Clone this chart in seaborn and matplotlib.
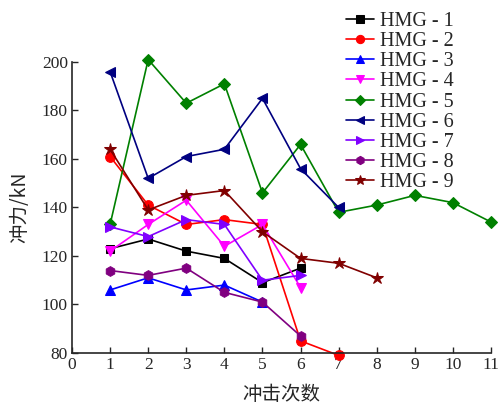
import matplotlib
matplotlib.use("Agg")
import matplotlib.pyplot as plt
import seaborn as sns

sns.set_style("ticks")
plt.rcParams['font.family'] = ['Liberation Serif', 'Noto Sans CJK SC', 'DejaVu Sans']

labels = ["HMG - 1", "HMG - 2", "HMG - 3", "HMG - 4", "HMG - 5",
          "HMG - 6", "HMG - 7", "HMG - 8", "HMG - 9"]
hmg1 = [123, 127, 122, 119, 109, 115]
hmg2 = [161, 141, 133, 135, 133, 85, 79]
hmg3 = [106, 111, 106, 108, 101]
hmg4 = [122, 133, 143, 124, 133, 107]
hmg5 = [133, 201, 183, 191, 146, 166, 138, 141, 145, 142, 134]
hmg6 = [196, 152, 161, 164, 185, 156, 140]
hmg7 = [132, 128, 135, 133, 110, 112]
hmg8 = [114, 112, 115, 105, 101, 87]
hmg9 = [164, 139, 145, 147, 130, 119, 117, 111]
series = [hmg1, hmg2, hmg3, hmg4, hmg5, hmg6, hmg7, hmg8, hmg9]
colors = ["#000000", "#FF0000", "#0000FF", "#FF00FF", "#008000",
          "#000080", "#8000FF", "#800080", "#800000"]
markers = ["s", "o", "^", "v", "D", "<", ">", "h", "*"]
msizes = [6, 7, 7, 7, 6, 7, 7, 7, 9]

fig = plt.figure(figsize=(4.98, 4.07), dpi=100)
ax = fig.add_axes([0.1446, 0.1327, 0.8414, 0.715])

for lab, ys, c, m, ms in zip(labels, series, colors, markers, msizes):
    xs = list(range(1, len(ys) + 1))
    sns.lineplot(x=xs, y=ys, color=c, marker=m, markersize=ms, label=lab,
                 markeredgecolor=c, linewidth=1.2, ax=ax, clip_on=False)

ax.set_xlim(0, 11)
ax.set_ylim(80, 200)
ax.set_xticks(range(0, 12))
ax.set_yticks(range(80, 201, 20))
ax.tick_params(direction='in', labelsize=12.5, length=4, width=1, pad=3)
for s in ['left', 'bottom']:
    ax.spines[s].set_linewidth(1.2)
sns.despine(ax=ax)
ax.set_xlabel("冲击次数", fontsize=14, family=['Noto Sans CJK SC'], labelpad=8)
ax.set_ylabel("冲力/kN", fontsize=14, family=['Noto Sans CJK SC', 'Liberation Serif'], labelpad=8)

leg = ax.legend(loc='upper left', bbox_to_anchor=(0.666, 1.005), bbox_transform=fig.transFigure,
                frameon=False, fontsize=14.5, labelspacing=0.05, handlelength=1.4,
                handletextpad=0.3, borderpad=0.2, markerscale=0.85)

fig.savefig("out.png", dpi=100)
